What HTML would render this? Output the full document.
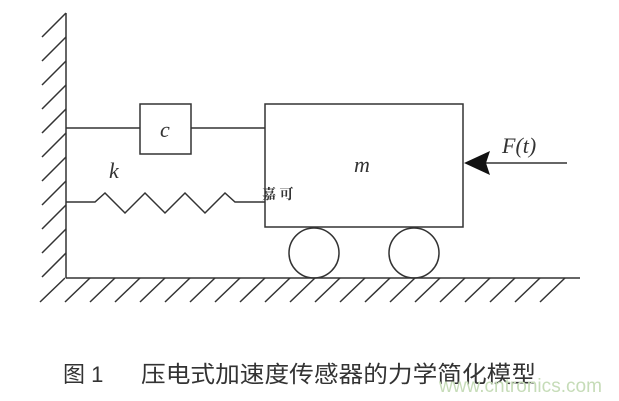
<!DOCTYPE html>
<html><head><meta charset="utf-8"><style>
body{margin:0;background:#fff;width:619px;height:401px;overflow:hidden}
svg{display:block}
</style></head><body>
<svg width="619" height="401" viewBox="0 0 619 401" xmlns="http://www.w3.org/2000/svg">
<g stroke="#333" stroke-width="1.5" fill="none">
<line x1="66" y1="13" x2="66" y2="278"/>
<line x1="66" y1="278" x2="580" y2="278"/>
<path d="M66,37 l-24,24 M66,61 l-24,24 M66,85 l-24,24 M66,109 l-24,24 M66,133 l-24,24 M66,157 l-24,24 M66,181 l-24,24 M66,205 l-24,24 M66,229 l-24,24 M66,253 l-24,24 M66,13 l-24,24"/>
<path d="M65,278 l-25,24 M90,278 l-25,24 M115,278 l-25,24 M140,278 l-25,24 M165,278 l-25,24 M190,278 l-25,24 M215,278 l-25,24 M240,278 l-25,24 M265,278 l-25,24 M290,278 l-25,24 M315,278 l-25,24 M340,278 l-25,24 M365,278 l-25,24 M390,278 l-25,24 M415,278 l-25,24 M440,278 l-25,24 M465,278 l-25,24 M490,278 l-25,24 M515,278 l-25,24 M540,278 l-25,24 M565,278 l-25,24"/>
<line x1="66" y1="128" x2="140" y2="128"/>
<rect x="140" y="104" width="51" height="50"/>
<line x1="191" y1="128" x2="265" y2="128"/>
<rect x="265" y="104" width="198" height="123"/>
<polyline points="66,202 95,202 105,193 125,213 145,193 165,213 185,193 205,213 225,193 235,202 265,202"/>
<circle cx="314" cy="253" r="25"/>
<circle cx="414" cy="253" r="25"/>
<line x1="480" y1="163" x2="567" y2="163"/>
</g>
<polygon points="464,163 490,151 486,163 490,175" fill="#111"/>
<g font-family="Liberation Serif, serif" font-style="italic" fill="#333">
<text x="160" y="137" font-size="22">c</text>
<text x="109" y="178" font-size="22">k</text>
<text x="354" y="172" font-size="22">m</text>
<text x="502" y="153" font-size="22">F(t)</text>
</g>
<text x="262" y="199" font-family="Liberation Serif, 'Noto Serif CJK SC', serif" font-weight="bold" font-size="14" fill="#333">嘉 可</text>
<text x="63" y="382" font-family="Liberation Sans, 'Noto Sans CJK SC', sans-serif" font-size="22" fill="#333">图 1</text>
<text x="141" y="382" font-family="Liberation Sans, 'Noto Sans CJK SC', sans-serif" font-size="23" fill="#333" textLength="395" lengthAdjust="spacingAndGlyphs">压电式加速度传感器的力学简化模型</text>
<text x="439" y="392" font-family="Liberation Sans, sans-serif" font-size="19" fill="#c6dcb8" textLength="163" lengthAdjust="spacingAndGlyphs">www.cntronics.com</text>
</svg>
</body></html>
